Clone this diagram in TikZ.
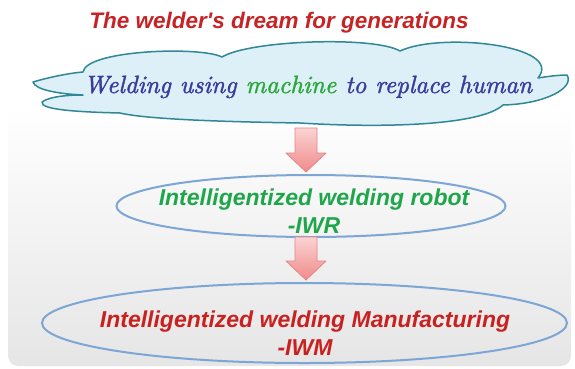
\documentclass[tikz,border=0pt]{standalone}
\usepackage{fontspec}
\setsansfont{Liberation Sans}
\newfontfamily\scriptface{lmroman10-italic.otf}[FakeBold=1.5]
\usetikzlibrary{shapes.geometric,calc}

\definecolor{titlered}{HTML}{C62424}
\definecolor{cloudblue}{HTML}{3B3B9E}
\definecolor{cloudgreen}{HTML}{29A838}
\definecolor{cloudline}{HTML}{2F8797}
\definecolor{cloudfill}{HTML}{DDEFF7}
\definecolor{ringblue}{HTML}{7CA6D5}
\definecolor{robotgreen}{HTML}{1FA64B}
\definecolor{iwmred}{HTML}{C8211F}
\definecolor{arrowtop}{HTML}{FBD3D3}
\definecolor{arrowbot}{HTML}{F08A8A}
\definecolor{arrowline}{HTML}{E58585}

\tikzset{
  headline/.style={font=\sffamily\bfseries\itshape\fontsize{22.5}{26}\selectfont, text=titlered, inner sep=0pt},
  ring/.style={draw=ringblue, line width=2pt, ellipse, inner sep=0pt},
  ringtext/.style={font=\sffamily\bfseries\itshape\fontsize{23}{28}\selectfont, align=center, inner sep=0pt},
  blockarrow/.style={draw=arrowline, line width=0.8pt, top color=arrowtop, bottom color=arrowbot, line join=round},
}

% Downward block arrow from the point #1 to the tip #2
\newcommand{\downblock}[2]{%
  \path[blockarrow] let \p1=(#1), \p2=(#2) in
    (\x1-11pt,\y1) -- (\x1+11pt,\y1) -- (\x1+11pt,\y2+19pt) -- (\x1+20pt,\y2+19pt)
    -- (\x2,\y2) -- (\x1-20pt,\y2+19pt) -- (\x1-11pt,\y2+19pt) -- cycle;}

\begin{document}
\begin{tikzpicture}[x=1pt,y=-1pt]
\useasboundingbox (0,0) rectangle (575,368);

% soft grey panel behind the lower part
\path[top color=white, bottom color=black!10, rounded corners=10pt] (8,106) rectangle (571,366);

% title
\node[headline, anchor=base] (title) at (279,28) {The welder\textquotesingle s dream for generations};

% cloud
\filldraw[draw=cloudline, fill=cloudfill, line width=1.5pt, line join=round]
  (33,82) .. controls (50,77) and (70,73) .. (83,72)
  .. controls (86,50) and (200,46) .. (222,57)
  .. controls (250,40) and (375,36) .. (400,51)
  .. controls (440,32) and (565,45) .. (538,78)
  .. controls (550,76) and (560,75) .. (567,75)
  .. controls (575,88) and (545,104) .. (503,105)
  .. controls (480,126) and (380,128) .. (300,123)
  .. controls (240,122) and (150,120) .. (120,113)
  .. controls (80,112) and (40,110) .. (42,102)
  .. controls (50,96) and (70,95) .. (83,95)
  .. controls (60,94) and (35,90) .. cycle;
\node[anchor=base, inner sep=0pt, font=\scriptface\fontsize{25}{30}\selectfont, text=cloudblue] (dream) at (308,93)
  {Welding using \textcolor{cloudgreen}{machine} to replace human};

% intelligentized welding robot
\node[ring, minimum width=389pt, minimum height=62pt] (iwr) at (311,206) {};
\node[ringtext, text=robotgreen, anchor=base] (iwrtext) at (314,233)
  {Intelligentized welding robot\\-IWR};

% intelligentized welding manufacturing
\node[ring, minimum width=525pt, minimum height=80pt] (iwm) at (304.5,323) {};
\node[ringtext, text=iwmred, anchor=base] (iwmtext) at (305,355)
  {Intelligentized welding Manufacturing\\-IWM};

% block arrows between the stages
\coordinate (a1top) at (306,128);
\coordinate (a1tip) at ($(iwr.north)+(-5,-2)$);
\coordinate (a2top) at (306,237);
\coordinate (a2tip) at ($(iwm.north)+(1.5,-2)$);
\downblock{a1top}{a1tip}
\downblock{a2top}{a2tip}
\end{tikzpicture}
\end{document}
